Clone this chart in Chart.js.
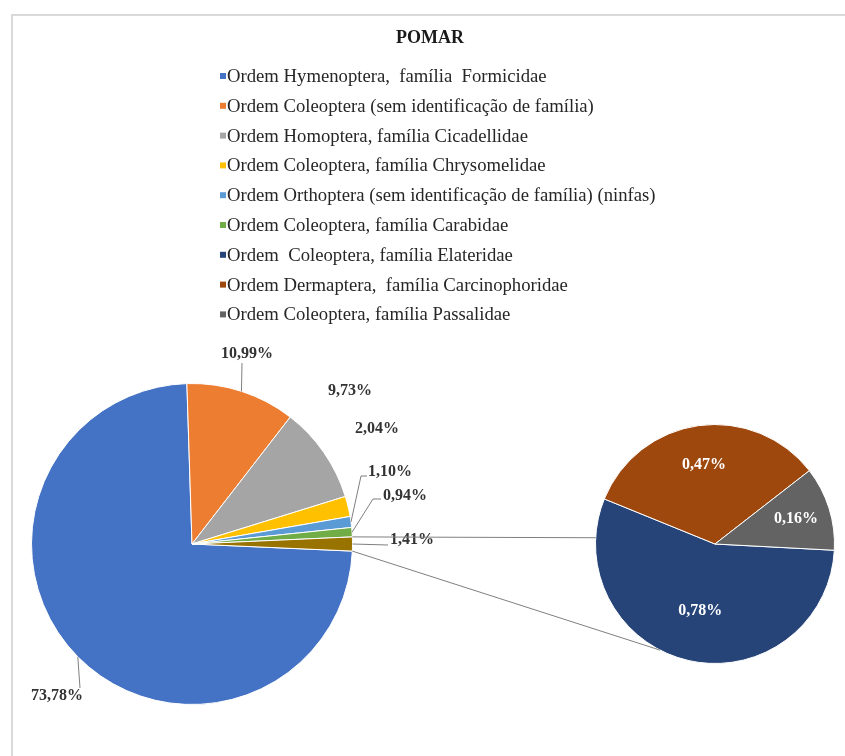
<!DOCTYPE html>
<html>
<head>
<meta charset="utf-8">
<script src="https://cdn.jsdelivr.net/npm/chart.js@4.4.0/dist/chart.umd.min.js"></script>
<style>
  html, body { margin: 0; padding: 0; background: #ffffff; }
  #wrap { position: relative; width: 845px; height: 756px; }
  canvas { position: absolute; left: 0; top: 0; }
</style>
</head>
<body>
<div id="wrap">
  <canvas id="mainPie" width="845" height="756"></canvas>
  <canvas id="subPie" width="845" height="756"></canvas>
</div>
<script>
// ---------- DATA ----------
const chartTitle = 'POMAR';
const categories = [
  'Ordem Hymenoptera,  família  Formicidae',
  'Ordem Coleoptera (sem identificação de família)',
  'Ordem Homoptera, família Cicadellidae',
  'Ordem Coleoptera, família Chrysomelidae',
  'Ordem Orthoptera (sem identificação de família) (ninfas)',
  'Ordem Coleoptera, família Carabidae',
  'Ordem  Coleoptera, família Elateridae',
  'Ordem Dermaptera,  família Carcinophoridae',
  'Ordem Coleoptera, família Passalidae'
];
// percentages shown in the main pie (first six categories)
const mainValues = [73.78, 10.99, 9.73, 2.04, 1.10, 0.94];
// percentages split out into the secondary pie (last three categories)
const otherValues = [0.78, 0.47, 0.16];

// ---------- STYLE ----------
const seriesColors = ['#4472C4', '#ED7D31', '#A5A5A5', '#FFC000', '#5B9BD5', '#70AD47',
                      '#264478', '#9E480E', '#636363'];
const otherSliceColor = '#997300';
const serif = '"Liberation Serif", "Times New Roman", serif';
const textColor = '#262626';
const labelColor = '#333333';
const lineColor = '#7f7f7f';

// main-pie label centres and leader waypoints (last leg goes to the slice edge)
const mainLabelPos = [[57, 696], [247, 354], [350, 391], [377, 429], [390, 472], [405, 496], [412, 540]];
const mainLeaders = [[[80, 688]], [[242, 363]], null, null, [[367, 476], [361, 476]], [[381, 499], [373, 499]], [[388, 545]]];
const subLabelRadial = [0.57, 0.67, 0.71];
const connectorAnglesDeg = [183, 117.4]; // where the connectors meet the secondary pie

const fmt = v => v.toFixed(2).replace('.', ',') + '%';
const otherTotal = otherValues.reduce((a, b) => a + b, 0);
const mainData = mainValues.concat([otherTotal]);
const mainTotal = mainData.reduce((a, b) => a + b, 0);
// rotate so that the "other" slice is centred at 3 o'clock
const beforeOther = mainValues.reduce((a, b) => a + b, 0);
const mainRotation = 90 - (beforeOther + otherTotal / 2) / mainTotal * 360;

// ---------- MAIN CHART ----------
const decorPlugin = {
  id: 'decor',
  afterDatasetsDraw(chart) {
    const ctx = chart.ctx;
    ctx.save();
    // frame
    ctx.strokeStyle = '#d9d9d9';
    ctx.lineWidth = 2;
    ctx.beginPath();
    ctx.moveTo(12, 756); ctx.lineTo(12, 15); ctx.lineTo(845, 15);
    ctx.stroke();
    // title
    ctx.fillStyle = '#1a1a1a';
    ctx.font = 'bold 18px ' + serif;
    ctx.textAlign = 'center';
    ctx.textBaseline = 'middle';
    ctx.fillText(chartTitle, 430, 38);
    // legend
    ctx.font = '18.7px ' + serif;
    ctx.textAlign = 'left';
    categories.forEach((c, i) => {
      const y = 76 + i * 29.8;
      ctx.fillStyle = seriesColors[i];
      ctx.fillRect(220, y - 3, 6, 6);
      ctx.fillStyle = textColor;
      ctx.fillText(c, 227, y + 1);
    });
    // data labels + leaders
    const meta = chart.getDatasetMeta(0);
    ctx.strokeStyle = lineColor;
    ctx.lineWidth = 1;
    meta.data.forEach((arc, i) => {
      const p = arc.getProps(['x', 'y', 'startAngle', 'endAngle', 'outerRadius'], true);
      const mid = (p.startAngle + p.endAngle) / 2;
      const ex = p.x + p.outerRadius * Math.cos(mid);
      const ey = p.y + p.outerRadius * Math.sin(mid);
      const pts = mainLeaders[i];
      if (pts) {
        ctx.beginPath();
        ctx.moveTo(pts[0][0], pts[0][1]);
        for (let k = 1; k < pts.length; k++) ctx.lineTo(pts[k][0], pts[k][1]);
        ctx.lineTo(ex, ey);
        ctx.stroke();
      }
    });
    ctx.font = 'bold 16px ' + serif;
    ctx.textAlign = 'center';
    ctx.fillStyle = labelColor;
    mainData.forEach((v, i) => {
      ctx.fillText(fmt(v), mainLabelPos[i][0], mainLabelPos[i][1]);
    });
    ctx.restore();
  }
};

const mainChart = new Chart(document.getElementById('mainPie'), {
  type: 'pie',
  data: {
    labels: categories.slice(0, 6).concat(['Outros']),
    datasets: [{
      data: mainData,
      backgroundColor: seriesColors.slice(0, 6).concat([otherSliceColor]),
      borderColor: '#ffffff',
      borderWidth: 1
    }]
  },
  options: {
    responsive: false,
    animation: false,
    devicePixelRatio: 1,
    rotation: mainRotation,
    layout: { padding: { left: 31, top: 383, right: 492, bottom: 51 } },
    plugins: { legend: { display: false }, tooltip: { enabled: false }, title: { display: false } }
  },
  plugins: [decorPlugin]
});

// ---------- SECONDARY CHART ----------
const subPlugin = {
  id: 'subDecor',
  afterDatasetsDraw(chart) {
    const ctx = chart.ctx;
    const meta = chart.getDatasetMeta(0);
    const a0 = meta.data[0].getProps(['x', 'y', 'outerRadius'], true);
    const mMeta = mainChart.getDatasetMeta(0);
    const other = mMeta.data[mMeta.data.length - 1].getProps(['x', 'y', 'startAngle', 'endAngle', 'outerRadius'], true);
    ctx.save();
    ctx.strokeStyle = lineColor;
    ctx.lineWidth = 1;
    const starts = [other.startAngle, other.endAngle];
    starts.forEach((ang, k) => {
      const sx = other.x + other.outerRadius * Math.cos(ang);
      const sy = other.y + other.outerRadius * Math.sin(ang);
      const t = connectorAnglesDeg[k] * Math.PI / 180;
      const tx = a0.x + a0.outerRadius * Math.cos(t);
      const ty = a0.y + a0.outerRadius * Math.sin(t);
      ctx.beginPath();
      ctx.moveTo(sx, sy);
      ctx.lineTo(tx, ty);
      ctx.stroke();
    });
    ctx.font = 'bold 16px ' + serif;
    ctx.textAlign = 'center';
    ctx.textBaseline = 'middle';
    ctx.fillStyle = '#ffffff';
    meta.data.forEach((arc, i) => {
      const p = arc.getProps(['x', 'y', 'startAngle', 'endAngle', 'outerRadius'], true);
      const mid = (p.startAngle + p.endAngle) / 2;
      const r = p.outerRadius * subLabelRadial[i];
      ctx.fillText(fmt(otherValues[i]), p.x + r * Math.cos(mid), p.y + r * Math.sin(mid));
    });
    ctx.restore();
  }
};

new Chart(document.getElementById('subPie'), {
  type: 'pie',
  data: {
    labels: categories.slice(6),
    datasets: [{
      data: otherValues,
      backgroundColor: seriesColors.slice(6),
      borderColor: '#ffffff',
      borderWidth: 1
    }]
  },
  options: {
    responsive: false,
    animation: false,
    devicePixelRatio: 1,
    rotation: 93,
    layout: { padding: { left: 595, top: 424, right: 10, bottom: 92 } },
    plugins: { legend: { display: false }, tooltip: { enabled: false }, title: { display: false } }
  },
  plugins: [subPlugin]
});
</script>
</body>
</html>
